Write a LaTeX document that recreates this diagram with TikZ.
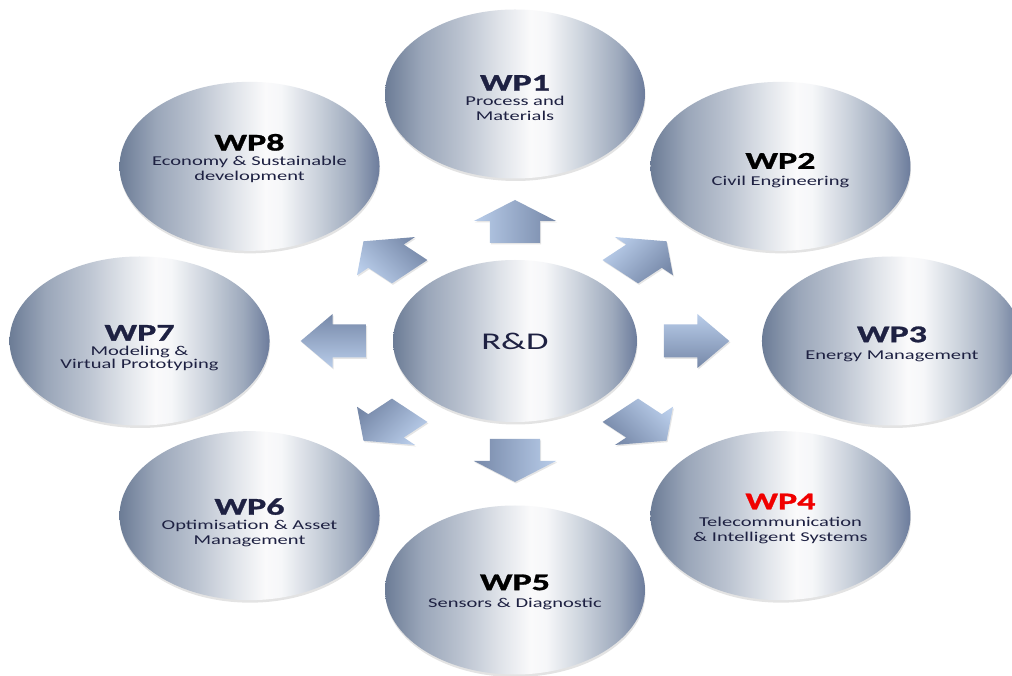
\documentclass[tikz,border=0pt]{standalone}
\usepackage{fontspec}
\setmainfont{Carlito}
\newfontfamily\subf[FakeStretch=1.52]{Carlito}
\newfontfamily\hdf[FakeStretch=1.5,FakeBold=1.2]{Carlito Bold}
\usetikzlibrary{shapes.geometric,shadows}
\definecolor{navy}{HTML}{1E2142}
\definecolor{wpred}{HTML}{F00000}
\definecolor{ce0}{HTML}{6C7C96}
\definecolor{ce1}{HTML}{9AA6B9}
\definecolor{ce2}{HTML}{BCC4D1}
\definecolor{ce3}{HTML}{DFE3E9}
\definecolor{ce4}{HTML}{FAFAFB}
\definecolor{ce5}{HTML}{F6F7F9}
\definecolor{ce6}{HTML}{CBD2DC}
\definecolor{ce7}{HTML}{9DA9BC}
\definecolor{ce8}{HTML}{6C7C9C}
\definecolor{arlight}{HTML}{B9CDEA}
\definecolor{ardark}{HTML}{7688A8}
\pgfdeclarehorizontalshading{cyl}{100bp}{color(0bp)=(ce0); color(25bp)=(ce0); color(32bp)=(ce1); color(40bp)=(ce2); color(47bp)=(ce3); color(53bp)=(ce4); color(56bp)=(ce5); color(63bp)=(ce6); color(70bp)=(ce7); color(75bp)=(ce8); color(100bp)=(ce8)}
\newcommand\hd{\hdf\fontsize{24}{24}\selectfont}
\tikzset{
  bubble/.style={ellipse, inner sep=0pt, shade, shading=cyl,
    drop shadow={opacity=0.22, shadow xshift=0.5pt, shadow yshift=-2.5pt}},
  sat/.style={bubble, minimum width=260pt, minimum height=169pt},
  hub/.style={bubble, minimum width=244pt, minimum height=162pt, text=navy,
    font=\subf\fontsize{24}{24}\selectfont},
  wptext/.style={align=center, text=navy, inner sep=0pt,
    font=\subf\fontsize{13.5}{15}\selectfont},
  blockarrow/.style={top color=arlight, bottom color=ardark,
    drop shadow={opacity=0.2, shadow xshift=1pt, shadow yshift=-1.5pt}}
}
\begin{document}
\begin{tikzpicture}[x=1pt,y=1pt]
\useasboundingbox (0,0) rectangle (1012,675);
\fill[white] (0,0) rectangle (1012,675);
\begin{scope}[shift={(515,334)}, xscale=1.52]
  \node[sat] (wp1) at (90:247) {};
  \node[sat] (wp2) at (45:247) {};
  \node[sat] (wp3) at (0:248) {};
  \node[sat] (wp4) at (-45:247) {};
  \node[sat] (wp5) at (-90:249) {};
  \node[sat] (wp6) at (-135:247) {};
  \node[sat] (wp7) at (180:247) {};
  \node[sat] (wp8) at (135:247) {};
  \node[hub] (rd) at (0,0) {R\&D};
  \foreach \a in {0,45,...,315}{
    \shade[blockarrow, shading angle=\a, rotate=\a]
      (98,-16.5) -- (120,-16.5) -- (120,-27) -- (141,0) -- (120,27) -- (120,16.5) -- (98,16.5) -- cycle;
  }
\end{scope}
\node[wptext] (t1) at ([yshift=-4pt]wp1.center) {{\hd WP1}\\[0pt] Process and\\ Materials};
\node[wptext] (t2) at ([yshift=-4pt]wp2.center) {{\hd\color{black} WP2}\\[1.5pt] Civil Engineering};
\node[wptext] (t3) at ([yshift=-3pt]wp3.center) {{\hd WP3}\\[2pt] Energy Management};
\node[wptext] (t4) at ([yshift=-3pt]wp4.center) {{\hd\color{wpred} WP4}\\[2pt] Telecommunication\\ \& Intelligent Systems};
\node[wptext] (t5) at ([yshift=-2pt]wp5.center) {{\hd\color{black} WP5}\\[2pt] Sensors \& Diagnostic};
\node[wptext] (t6) at ([yshift=-7pt]wp6.center) {{\hd WP6}\\[0pt] Optimisation \& Asset\\ Management};
\node[wptext] (t7) at ([yshift=-7pt]wp7.center) {{\hd WP7}\\[-0.5pt] Modeling \&\\[-1.5pt] Virtual Prototyping};
\node[wptext] (t8) at ([yshift=8pt]wp8.center) {{\hd\color{black} WP8}\\[0pt] Economy \& Sustainable\\ development};
\end{tikzpicture}
\end{document}
